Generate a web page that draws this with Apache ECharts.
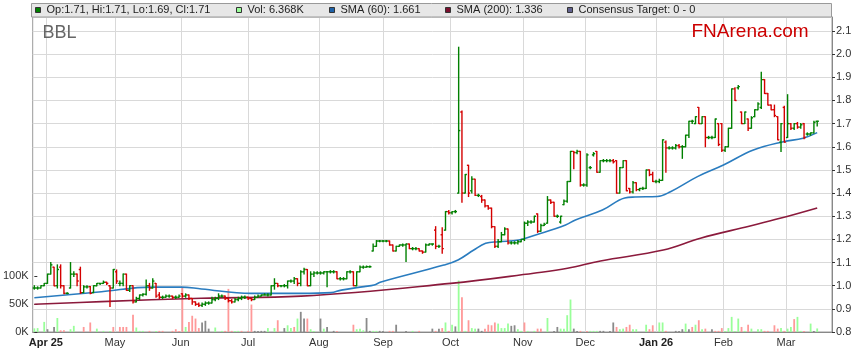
<!DOCTYPE html>
<html><head><meta charset="utf-8">
<script src="https://cdn.jsdelivr.net/npm/echarts@6/dist/echarts.min.js"></script>
<style>html,body{margin:0;padding:0;background:#fff}#c{width:859px;height:363px}</style>
</head><body><div id="c"></div>
<script>
// ---- data ----
const monthPos = [3.5, 24.5, 44.5, 65, 86.5, 106, 126.5, 148.5, 167.5, 189, 209.5, 228.5];
const monthLabels = ['Apr 25','May','Jun','Jul','Aug','Sep','Oct','Nov','Dec','Jan 26','Feb','Mar'];
const boldLabels = ['Apr 25','Jan 26'];

const opens = [
.99,.99,.99,1.0,1.01,1.05,1.08,1.0,1.08,1.0,
.967,.99,1.05,1.05,1.07,.97,.995,.996,.97,1.0,
1.01,1.01,1.015,1.0,.99,1.06,1.01,1.01,1.05,.98,
1.0,.93,.945,.96,.963,1.0,.99,1.01,.96,.95,
.95,.955,.955,.95,.95,.965,.955,.96,.945,.93,
.92,.915,.92,.925,.925,.94,.945,.955,.955,.945,
.935,.93,.94,.945,.95,.95,.945,.94,.95,.955,
.96,.96,.96,1.0,1.01,1.0,1.0,1.0,1.02,1.02,
1.03,1.01,1.06,1.07,1.0,1.05,1.055,1.055,1.055,1.06,
1.06,1.06,1.06,1.03,1.03,1.03,1.06,1.06,1.0,1.06,
1.08,1.08,1.082,1.15,1.17,1.193,1.193,1.193,1.193,1.176,
1.15,1.17,1.176,1.176,1.18,1.16,1.16,1.16,1.15,1.145,
1.176,1.18,1.24,1.17,1.22,1.24,1.32,1.315,1.32,1.40,
1.75,1.40,1.52,1.41,1.46,1.39,1.385,1.37,1.345,1.335,
1.255,1.17,1.19,1.22,1.245,1.185,1.185,1.185,1.19,1.20,
1.27,1.275,1.275,1.31,1.235,1.26,1.27,1.37,1.36,1.30,
1.275,1.35,1.365,1.45,1.58,1.575,1.58,1.435,1.435,1.51,
1.565,1.58,1.49,1.54,1.54,1.54,1.54,1.54,1.40,1.51,
1.54,1.42,1.405,1.445,1.415,1.42,1.42,1.50,1.48,1.45,
1.45,1.455,1.62,1.595,1.595,1.595,1.605,1.60,1.60,1.65,
1.71,1.70,1.77,1.70,1.73,1.64,1.64,1.64,1.70,1.70,
1.585,1.60,1.68,1.85,1.855,1.75,1.70,1.72,1.68,1.73,
1.76,1.77,1.89,1.83,1.78,1.76,1.73,1.62,1.77,1.64,
1.70,1.68,1.70,1.685,1.70,1.655,1.655,1.66,1.71];
const highs = [
1.0,.995,1.0,1.01,1.05,1.10,1.08,1.09,1.09,1.0,
.97,1.10,1.06,1.05,1.08,1.0,1.0,.996,1.0,1.01,
1.01,1.02,1.015,1.0,1.07,1.068,1.02,1.05,1.05,1.0,
1.0,.95,.96,.965,1.025,1.01,1.03,1.01,.97,.955,
.96,.96,.955,.955,.96,.965,.965,.96,.945,.93,
.925,.925,.93,.93,.95,.95,.965,.96,.955,.945,
.94,.945,.95,.955,.955,.95,.945,.955,.96,.96,
.965,.965,1.0,1.03,1.01,1.0,1.005,1.02,1.025,1.035,
1.03,1.065,1.075,1.07,1.06,1.06,1.06,1.06,1.06,1.06,
1.065,1.065,1.06,1.035,1.035,1.06,1.065,1.06,1.06,1.085,
1.085,1.085,1.085,1.18,1.195,1.195,1.195,1.195,1.193,1.176,
1.17,1.176,1.18,1.18,1.18,1.165,1.165,1.16,1.15,1.18,
1.18,1.18,1.255,1.175,1.25,1.32,1.325,1.32,1.325,2.03,
1.755,1.48,1.52,1.47,1.46,1.395,1.39,1.37,1.345,1.335,
1.255,1.20,1.23,1.25,1.245,1.19,1.19,1.195,1.20,1.275,
1.28,1.28,1.30,1.31,1.265,1.27,1.385,1.37,1.36,1.305,
1.30,1.37,1.45,1.58,1.58,1.585,1.58,1.44,1.57,1.515,
1.575,1.58,1.54,1.545,1.545,1.545,1.545,1.54,1.51,1.54,
1.54,1.42,1.45,1.445,1.42,1.425,1.50,1.50,1.49,1.455,
1.46,1.63,1.625,1.60,1.60,1.61,1.61,1.605,1.65,1.71,
1.715,1.73,1.77,1.73,1.73,1.645,1.645,1.72,1.70,1.70,
1.60,1.68,1.85,1.855,1.865,1.75,1.75,1.72,1.73,1.76,
1.79,1.922,1.89,1.83,1.78,1.78,1.73,1.70,1.775,1.825,
1.70,1.70,1.705,1.70,1.70,1.66,1.66,1.71,1.71];
const lows = [
.985,.985,.99,1.0,1.01,1.05,1.0,.99,.99,.965,
.965,.99,1.04,1.0,.967,.97,.99,.965,.97,1.0,
1.005,1.01,1.005,.91,.99,1.01,1.0,1.0,.98,.975,
.925,.93,.94,.955,.96,.98,.99,.95,.945,.945,
.95,.95,.945,.945,.95,.95,.95,.94,.92,.915,
.91,.91,.915,.92,.925,.935,.94,.95,.94,.93,
.925,.93,.935,.94,.945,.94,.935,.94,.95,.955,
.96,.955,.96,.985,.995,.995,.995,.99,1.015,1.01,
1.0,1.0,1.05,1.0,1.0,1.04,1.05,1.05,1.05,.995,
1.055,1.055,1.03,1.025,1.025,1.03,1.055,1.0,1.0,1.06,
1.075,1.08,1.08,1.15,1.17,1.19,1.19,1.19,1.175,1.15,
1.15,1.17,1.17,1.104,1.16,1.155,1.155,1.15,1.14,1.145,
1.175,1.175,1.16,1.165,1.14,1.24,1.31,1.31,1.315,1.40,
1.36,1.40,1.385,1.40,1.39,1.385,1.36,1.34,1.33,1.25,
1.165,1.165,1.19,1.22,1.18,1.18,1.18,1.18,1.19,1.195,
1.26,1.27,1.275,1.23,1.235,1.26,1.27,1.355,1.30,1.295,
1.27,1.35,1.36,1.45,1.505,1.57,1.43,1.43,1.43,1.505,
1.56,1.49,1.49,1.535,1.535,1.535,1.53,1.40,1.40,1.51,
1.41,1.40,1.40,1.41,1.41,1.415,1.42,1.475,1.45,1.445,
1.445,1.455,1.49,1.59,1.59,1.59,1.595,1.55,1.60,1.64,
1.70,1.70,1.70,1.70,1.60,1.635,1.635,1.64,1.605,1.58,
1.58,1.60,1.68,1.80,1.85,1.70,1.70,1.67,1.68,1.73,
1.76,1.765,1.83,1.78,1.76,1.73,1.63,1.58,1.62,1.64,
1.675,1.675,1.68,1.68,1.635,1.65,1.65,1.66,1.69];
const closes = [
.99,.99,1.0,1.01,1.05,1.09,1.0,1.07,1.0,.967,
.967,1.05,1.05,1.02,.97,.995,.995,.967,1.0,1.01,
1.01,1.015,1.01,.99,1.07,1.02,1.01,1.05,.98,1.0,
.93,.945,.96,.963,1.0,.99,1.02,.955,.95,.95,
.955,.955,.95,.95,.955,.955,.96,.945,.93,.92,
.915,.92,.925,.925,.94,.945,.955,.955,.945,.935,
.93,.94,.945,.95,.95,.945,.94,.95,.955,.96,
.96,.96,1.0,1.01,1.0,1.0,1.0,1.02,1.02,1.03,
1.01,1.06,1.07,1.0,1.05,1.055,1.055,1.055,1.06,1.06,
1.06,1.06,1.03,1.03,1.03,1.06,1.06,1.0,1.06,1.08,
1.08,1.082,1.082,1.17,1.193,1.193,1.193,1.193,1.176,1.15,
1.17,1.176,1.176,1.18,1.16,1.16,1.16,1.15,1.145,1.176,
1.18,1.18,1.17,1.17,1.16,1.32,1.315,1.32,1.32,1.67,
1.40,1.48,1.40,1.46,1.39,1.39,1.37,1.345,1.335,1.255,
1.17,1.19,1.22,1.245,1.185,1.185,1.185,1.19,1.20,1.27,
1.275,1.275,1.30,1.235,1.26,1.265,1.37,1.36,1.30,1.30,
1.30,1.365,1.45,1.58,1.575,1.58,1.435,1.435,1.565,1.51,
1.57,1.49,1.54,1.54,1.54,1.54,1.535,1.40,1.51,1.54,
1.41,1.405,1.445,1.415,1.42,1.42,1.50,1.48,1.45,1.45,
1.455,1.63,1.595,1.595,1.595,1.605,1.60,1.60,1.65,1.71,
1.71,1.73,1.70,1.73,1.64,1.64,1.64,1.72,1.61,1.585,
1.60,1.68,1.85,1.80,1.86,1.70,1.75,1.68,1.725,1.76,
1.785,1.89,1.83,1.78,1.76,1.735,1.63,1.70,1.62,1.70,
1.68,1.70,1.685,1.695,1.64,1.655,1.66,1.705,1.71];

// volume in thousands; direction: 1 up, -1 down, 0 unchanged
const volumes = [
6.5,7,0,18,5,0,9,25,3,3,
0,5,11,0,0,9,0,17,0,6,
0,2,0,2,9,0,9,9,9,0,
31,8,2,2,0,2,0,2,2,2,
0,0,2,5,2,80,9,18,29,24,
7,17,20,6,0,8,0,2,2,77,
2,2,2,2,0,2,49,2,2,2,
2,7,0,7,21,0,7,12,7,9,
24,36,24,24,5,2,0,24,6,9,
0,2,2,0,0,0,0,13,5,6,
3,25,2,2,2,2,2,0,2,2,
13,0,0,2,0,2,0,2,0,0,
0,6,2,6,7,17,2,13,10,92,
62,2,21,7,6,6,2,6,13,12,
17,15,7,7,15,11,12,5,2,17,
2,0,2,6,6,0,25,0,2,9,
6,6,30,58,6,2,2,0,2,2,
2,2,2,2,0,2,17,9,5,6,
9,13,5,5,0,0,13,5,12,0,
17,17,2,0,0,2,2,5,15,5,
9,13,21,5,6,0,5,2,2,7,
2,7,27,2,24,9,2,13,6,0,
5,5,2,2,0,12,6,7,2,6,
9,23,27,2,2,0,15,2,6.368];
const volDir = [
1,1,0,1,0,0,0,1,-1,-1,
0,1,1,0,0,-1,0,-1,0,1,
0,1,0,1,-1,0,-1,-1,-1,0,
-1,1,1,1,0,-1,0,1,-1,-1,
0,0,-1,-1,-1,-1,1,-1,-1,-1,
-1,0,0,0,0,1,0,1,-1,-1,
-1,1,1,-1,0,-1,-1,0,0,0,
0,1,0,1,-1,0,0,1,1,-1,
1,0,0,-1,1,1,0,0,1,0,
0,0,-1,0,0,0,0,-1,1,1,
1,0,0,1,1,0,0,0,-1,-1,
0,0,0,0,0,1,0,-1,0,0,
0,0,-1,0,-1,1,-1,1,0,1,
-1,1,-1,1,1,0,0,-1,-1,-1,
-1,1,1,1,1,0,0,1,1,-1,
1,0,1,-1,-1,0,1,0,0,0,
1,1,1,1,0,0,-1,0,-1,1,
1,1,0,0,0,0,0,-1,1,1,
-1,-1,1,1,0,0,1,-1,-1,0,
1,1,-1,0,0,0,0,0,1,0,
-1,1,-1,1,-1,0,0,-1,-1,-1,
1,1,1,1,1,-1,1,-1,1,0,
1,1,-1,-1,0,-1,-1,1,-1,1,
1,-1,1,1,-1,0,1,0,1];

const sma60Idx = [0,20.4,35.6,44.7,50.8,65.9,81.1,90.2,93.3,100.2,103.3,105.4,124.5,128.8,133.6,137.2,141,147.3,152.4,161.5,164.5,172.7,179.5,182.6,189.4,193.4,201.6,209.5,218.6,227.7,233.7,238];
const sma60Val = [.948,.974,.994,.994,.986,.967,.967,.970,.981,.996,1.003,1.016,1.089,1.111,1.154,1.183,1.19,1.197,1.219,1.262,1.284,1.327,1.379,1.383,1.385,1.406,1.471,1.521,1.586,1.622,1.637,1.661];
const sma200Idx = [0,20.4,50.8,81.1,126.6,151.8,162.1,172.1,191.2,202.5,217.6,226.7,238];
const sma200Val = [.920,.931,.946,.955,1.010,1.054,1.075,1.107,1.154,1.205,1.258,1.291,1.336];

// ---- chart ----
const FONT = '"Liberation Sans", Arial, sans-serif';
const chart = echarts.init(document.getElementById('c'), null, {renderer: 'canvas'});
const ohlcData = opens.map((o, i) => [i, o, highs[i], lows[i], closes[i]]);
const volData = volumes.map((v, i) => [i, v, volDir[i]]);
const labelMap = {};
monthPos.forEach((p, k) => { labelMap[p] = monthLabels[k]; });

const legendItems = [
  {x: 35, color: '#008000', text: 'Op:1.71, Hi:1.71, Lo:1.69, Cl:1.71'},
  {x: 236, color: '#99ff99', text: 'Vol: 6.368K'},
  {x: 329, color: '#1f62a8', text: 'SMA (60): 1.661'},
  {x: 445, color: '#7a0f2e', text: 'SMA (200): 1.336'},
  {x: 567, color: '#62628f', text: 'Consensus Target: 0 - 0'}
];
const graphics = [
  {type: 'rect', shape: {x: 31.5, y: 3.5, width: 800, height: 13.5}, style: {fill: '#e7e7e7', stroke: '#9a9a9a', lineWidth: 1}, z: 10},
  {type: 'text', x: 42.5, y: 32.7, style: {text: 'BBL', font: '18px ' + FONT, fill: '#666', textVerticalAlign: 'middle'}, z: 10},
  {type: 'text', x: 691.5, y: 31.5, style: {text: 'FNArena.com', font: '19px ' + FONT, fill: '#cc0000', textVerticalAlign: 'middle'}, z: 10}
];
legendItems.forEach(it => {
  graphics.push({type: 'rect', shape: {x: it.x + 0.5, y: 7.5, width: 5, height: 5}, style: {fill: it.color, stroke: '#333', lineWidth: 1}, z: 11});
  graphics.push({type: 'text', x: it.x + 11.5, y: 10.3, style: {text: it.text, font: '11px ' + FONT, fill: '#222', textVerticalAlign: 'middle'}, z: 11});
});

chart.setOption({
  animation: false,
  backgroundColor: '#fff',
  grid: {left: 31, right: 27, top: 17, bottom: 31, show: true, borderColor: '#9a9a9a', borderWidth: 1, backgroundColor: '#fff'},
  graphic: graphics,
  xAxis: {
    type: 'value', min: -0.5, max: 242.5,
    axisLine: {show: true, lineStyle: {color: '#888'}},
    axisTick: {show: false},
    splitLine: {show: false},
    axisLabel: {
      customValues: monthPos, margin: 5, fontSize: 11, fontFamily: FONT, color: '#333',
      formatter: v => { const t = labelMap[v] || ''; return boldLabels.indexOf(t) >= 0 ? '{b|' + t + '}' : t; },
      rich: {b: {fontWeight: 'bold', fontSize: 11, fontFamily: FONT, color: '#222'}}
    }
  },
  yAxis: [
    {
      type: 'value', position: 'left', min: 0, max: 562.5,
      axisLine: {show: false},
      axisTick: {show: true, inside: true, length: 3, customValues: [0, 50, 100], lineStyle: {color: '#333'}},
      axisLabel: {customValues: [0, 50, 100], margin: 4, fontSize: 11, fontFamily: FONT, color: '#333', formatter: v => v + 'K'},
      splitLine: {show: false}
    },
    {
      type: 'value', position: 'right', min: 0.8, max: 2.1605, interval: 0.1,
      axisLine: {show: true, lineStyle: {color: '#888'}},
      axisTick: {show: true, length: 3, lineStyle: {color: '#333'}},
      axisLabel: {margin: 4, fontSize: 11, fontFamily: FONT, color: '#333', showMaxLabel: false, formatter: v => v.toFixed(1)},
      splitLine: {show: true, lineStyle: {color: '#d9d9d9', width: 1}}
    }
  ],
  series: [
    {
      type: 'custom', name: 'vgrid', silent: true, z: 1,
      xAxisIndex: 0, yAxisIndex: 1,
      data: monthPos.map(p => [p, 1]),
      renderItem: (params, api) => {
        const x = Math.round(api.coord([api.value(0), 1])[0]) + 0.5;
        const cs = params.coordSys;
        return {type: 'line', shape: {x1: x, y1: cs.y, x2: x, y2: cs.y + cs.height}, style: {stroke: '#d9d9d9', lineWidth: 1}};
      }
    },
    {
      type: 'custom', name: 'Vol', silent: true, z: 2,
      xAxisIndex: 0, yAxisIndex: 0,
      data: volData,
      encode: {x: 0, y: 1},
      renderItem: (params, api) => {
        const i = api.value(0), v = api.value(1), d = api.value(2);
        if (!v) return null;
        const top = api.coord([i, v]), base = api.coord([i, 0]);
        const w = 1.8;
        const col = d > 0 ? '#99ff99' : (d < 0 ? '#ff9999' : '#8a8a8a');
        return {type: 'rect', shape: {x: top[0] - w / 2, y: top[1], width: w, height: base[1] - top[1]}, style: {fill: col}};
      }
    },
    {
      type: 'line', name: 'SMA200', z: 3, xAxisIndex: 0, yAxisIndex: 1,
      data: sma200Idx.map((x, k) => [x, sma200Val[k]]),
      smooth: 0.4, symbol: 'none', lineStyle: {color: '#8b1a3c', width: 1.6}
    },
    {
      type: 'line', name: 'SMA60', z: 3, xAxisIndex: 0, yAxisIndex: 1,
      data: sma60Idx.map((x, k) => [x, sma60Val[k]]),
      smooth: 0.4, symbol: 'none', lineStyle: {color: '#2a7cbf', width: 1.6}
    },
    {
      type: 'custom', name: 'OHLC', z: 4, xAxisIndex: 0, yAxisIndex: 1,
      data: ohlcData,
      encode: {x: 0, y: [1, 2, 3, 4]},
      renderItem: (params, api) => {
        const i = api.value(0), o = api.value(1), h = api.value(2), l = api.value(3), c = api.value(4);
        const pH = api.coord([i, h]), pL = api.coord([i, l]), pO = api.coord([i, o]), pC = api.coord([i, c]);
        const x = pH[0];
        const w = api.size([1, 0])[0] * 0.5;
        const col = c >= o ? '#008000' : '#d40000';
        const st = {stroke: col, lineWidth: 1.4};
        return {type: 'group', children: [
          {type: 'line', shape: {x1: x, y1: pH[1] - 0.5, x2: x, y2: pL[1] + 0.5}, style: st},
          {type: 'line', shape: {x1: x - w, y1: pO[1], x2: x, y2: pO[1]}, style: st},
          {type: 'line', shape: {x1: x, y1: pC[1], x2: x + w, y2: pC[1]}, style: st}
        ]};
      }
    }
  ]
});
</script>
</body></html>
